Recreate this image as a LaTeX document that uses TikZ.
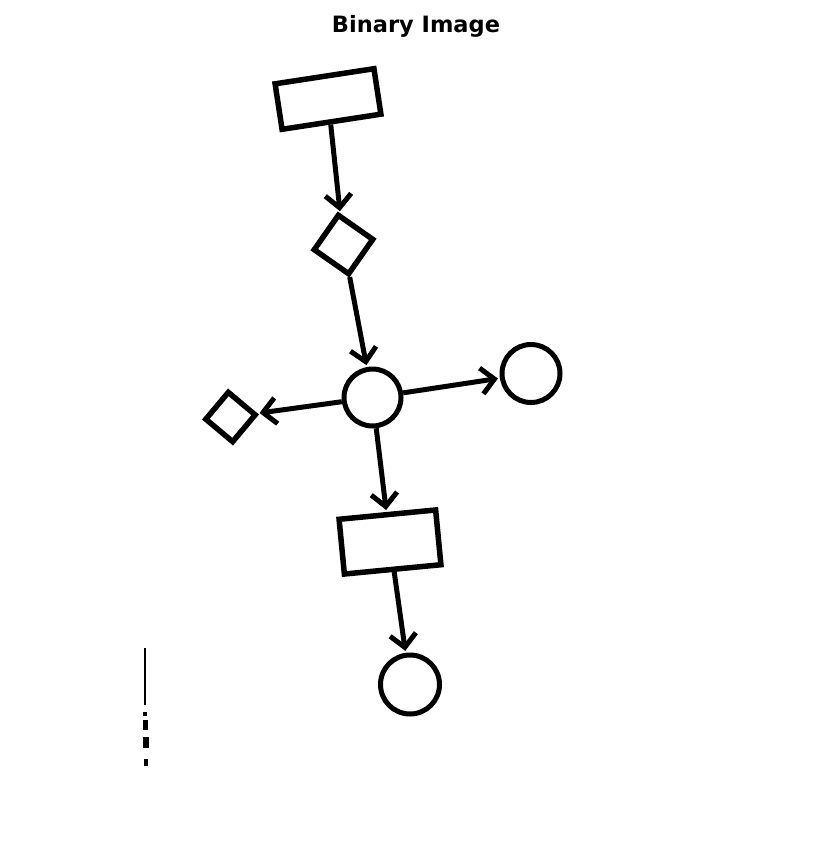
\documentclass[tikz,border=0pt]{standalone}
\usepackage{fontspec}
\setmainfont{DejaVu Sans}
\usetikzlibrary{arrows.meta, positioning}

\begin{document}
\begin{tikzpicture}[x=1pt, y=-1pt,
  box/.style={rectangle, draw, line width=5.5pt, inner sep=0pt},
  rnd/.style={circle, draw, line width=5pt, inner sep=0pt},
  link/.style={line width=5pt, shorten >=2pt,
    -{Straight Barb[length=13pt, width=26pt, line width=5pt]}}]
\useasboundingbox (0,0) rectangle (834,867);
%
\node[font=\bfseries\fontsize{22.5}{24}\selectfont] (title) at (416,26) {Binary Image};
%
\node[box, minimum width=100pt, minimum height=46pt, rotate=8.7] (rect1) at (328,99) {};
\node[box, minimum size=42pt, rotate=-35] (dia1) at (343.5,244.5) {};
\node[rnd, minimum size=57pt] (circ1) at (372.5,397.5) {};
\node[rnd, minimum size=58pt] (circ2) at (531,373.5) {};
\node[box, minimum size=35pt, rotate=-40] (dia2) at (230.5,417) {};
\node[box, minimum width=97pt, minimum height=55pt, rotate=5.5] (rect2) at (390,542) {};
\node[rnd, minimum size=59pt] (circ3) at (410,684.5) {};
%
\draw[link] (rect1) -- (dia1);
\draw[link] (dia1) -- (circ1);
\draw[link] (circ1) -- (circ2);
\draw[link] (circ1) -- (dia2);
\draw[link] (circ1) -- (rect2);
\draw[link] (rect2) -- (circ3);
%
\draw[line width=2pt] (145,648) -- (145,705);
\fill (143,712) rectangle (147,716);
\fill (143,720) rectangle (148,730);
\fill (143,737) rectangle (149,748);
\fill (144,759) rectangle (148,766);
\end{tikzpicture}
\end{document}
